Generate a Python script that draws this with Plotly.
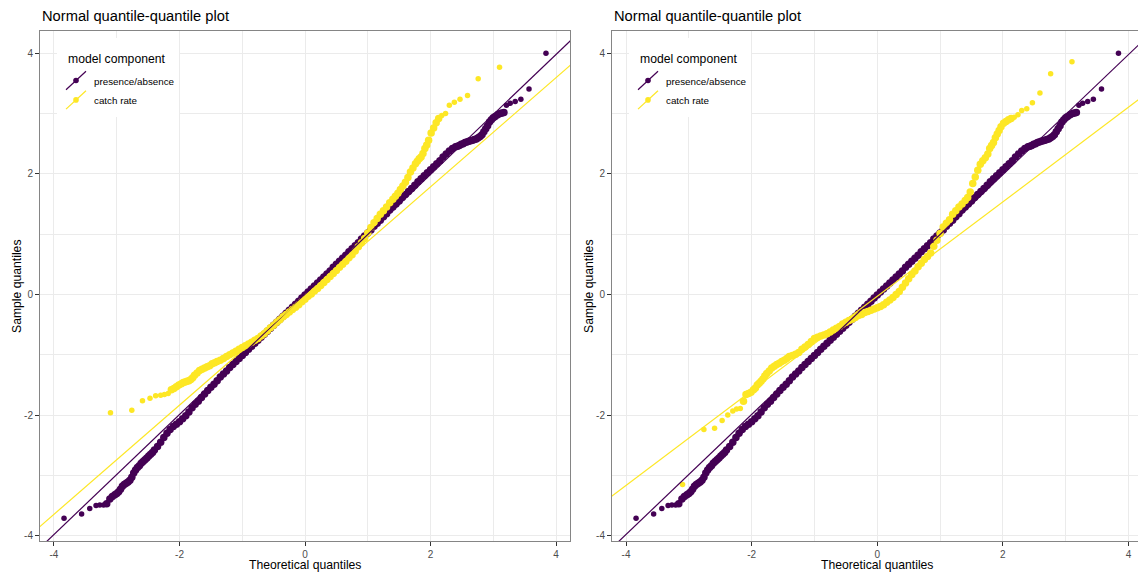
import plotly.graph_objects as go

# ---------------- data ----------------
# presence/absence residuals: theoretical quantiles and sample quantiles (same in both panels)
PA_X = [-3.84, -3.56, -3.43, -3.33, -3.27, -3.21, -3.16, -3.11, -3.07, -3.03,
        -3.00, -2.97, -2.94, -2.91, -2.88, -2.85, -2.82, -2.79, -2.76, -2.73,
        -2.70, -2.67, -2.64, -2.61, -2.58, -2.55, -2.52, -2.49, -2.46, -2.43,
        -2.40,
        -2.35, -2.30, -2.25, -2.20, -2.15, -2.10, -2.05, -2.00, -1.95, -1.90,
        -1.85, -1.80, -1.75, -1.70, -1.65, -1.60, -1.55, -1.50, -1.45, -1.40,
        -1.35, -1.30, -1.25, -1.20, -1.15, -1.10, -1.05, -1.00, -0.95, -0.90,
        -0.85, -0.80, -0.75, -0.70, -0.65, -0.60, -0.55, -0.50, -0.45, -0.40,
        -0.35, -0.30, -0.25, -0.20, -0.15, -0.10, -0.05, 0.00, 0.05, 0.10,
        0.15, 0.20, 0.25, 0.30, 0.35, 0.40, 0.45, 0.50, 0.55, 0.60,
        0.65, 0.70, 0.75, 0.80, 0.85, 0.90, 0.95, 1.00, 1.05, 1.10,
        1.15, 1.20, 1.25, 1.30, 1.35, 1.40, 1.45, 1.50, 1.55, 1.60,
        1.65, 1.70, 1.75, 1.80, 1.85, 1.90, 1.95, 2.00, 2.05, 2.10,
        2.15, 2.20, 2.25, 2.30, 2.35,
        2.40, 2.43, 2.46, 2.49, 2.52, 2.55, 2.58, 2.61, 2.64, 2.67,
        2.70, 2.73, 2.76, 2.79, 2.82, 2.85, 2.88, 2.91, 2.94, 2.97,
        3.00, 3.03, 3.07, 3.11, 3.14, 3.17, 3.21, 3.27, 3.35, 3.44,
        3.57, 3.84]
PA_Y = [-3.71, -3.64, -3.55, -3.50, -3.49, -3.49, -3.47, -3.39, -3.35, -3.32,
        -3.30, -3.27, -3.23, -3.18, -3.15, -3.13, -3.11, -3.08, -3.03, -2.96,
        -2.91, -2.87, -2.84, -2.80, -2.77, -2.74, -2.71, -2.68, -2.65, -2.62,
        -2.58,
        -2.52, -2.45, -2.37, -2.30, -2.24, -2.19, -2.15, -2.11, -2.06, -2.01,
        -1.95, -1.88, -1.82, -1.77, -1.71, -1.65, -1.59, -1.54, -1.49, -1.43,
        -1.37, -1.32, -1.27, -1.21, -1.16, -1.11, -1.06, -1.01, -0.96, -0.91,
        -0.86, -0.81, -0.76, -0.71, -0.66, -0.61, -0.56, -0.51, -0.46, -0.41,
        -0.36, -0.31, -0.26, -0.21, -0.16, -0.11, -0.06, -0.01, 0.04, 0.09,
        0.14, 0.19, 0.24, 0.29, 0.34, 0.39, 0.45, 0.50, 0.55, 0.60,
        0.65, 0.71, 0.76, 0.81, 0.86, 0.92, 0.97, 1.02, 1.07, 1.13,
        1.18, 1.23, 1.29, 1.34, 1.40, 1.45, 1.50, 1.55, 1.61, 1.66,
        1.71, 1.76, 1.81, 1.87, 1.92, 1.97, 2.02, 2.07, 2.12, 2.17,
        2.22, 2.28, 2.33, 2.38, 2.42,
        2.45, 2.46, 2.47, 2.49, 2.50, 2.52, 2.53, 2.54, 2.55, 2.56,
        2.57, 2.58, 2.60, 2.62, 2.65, 2.70, 2.75, 2.80, 2.86, 2.90,
        2.93, 2.95, 2.98, 3.00, 3.01, 3.02, 3.14, 3.17, 3.20, 3.24,
        3.41, 4.00]

# catch-rate residuals: theoretical quantiles (shared by both panels)
CR_X = [-3.10, -2.76, -2.59, -2.47, -2.38, -2.30, -2.24, -2.18, -2.13, -2.09,
        -2.05, -2.01, -1.97, -1.94, -1.91, -1.88, -1.85, -1.82, -1.79, -1.76,
        -1.72, -1.68, -1.64, -1.60, -1.56, -1.52, -1.48, -1.44, -1.40,
        -1.35, -1.30, -1.25, -1.20, -1.15, -1.10, -1.05, -1.00, -0.95, -0.90,
        -0.85, -0.80, -0.75, -0.70, -0.65, -0.60, -0.55, -0.50, -0.45, -0.40,
        -0.35, -0.30, -0.25, -0.20, -0.15, -0.10, -0.05, 0.00, 0.05, 0.10,
        0.15, 0.20, 0.25, 0.30, 0.35, 0.40, 0.45, 0.50, 0.55, 0.60,
        0.65, 0.70, 0.75, 0.80, 0.85, 0.90, 0.95, 1.00, 1.05, 1.10,
        1.15, 1.20, 1.25, 1.30, 1.35, 1.40,
        1.44, 1.48, 1.52, 1.56, 1.60, 1.64, 1.68, 1.72, 1.76, 1.79,
        1.82, 1.85, 1.88, 1.91, 1.94, 1.97, 2.01, 2.05, 2.09, 2.13,
        2.18, 2.24, 2.30, 2.38, 2.47, 2.59, 2.76, 3.10]
# catch-rate sample quantiles, left model
CR_Y_LEFT = [-1.96, -1.92, -1.76, -1.72, -1.68, -1.67, -1.66, -1.64, -1.58, -1.56,
             -1.53, -1.50, -1.48, -1.46, -1.45, -1.44, -1.43, -1.41, -1.38, -1.34,
             -1.30, -1.26, -1.24, -1.22, -1.20, -1.18, -1.15, -1.13, -1.11,
             -1.09, -1.06, -1.03, -1.00, -0.97, -0.94, -0.91, -0.88, -0.85, -0.82,
             -0.79, -0.76, -0.73, -0.69, -0.65, -0.60, -0.55, -0.51, -0.46, -0.42,
             -0.37, -0.33, -0.29, -0.25, -0.21, -0.17, -0.12, -0.08, -0.03, 0.01,
             0.06, 0.10, 0.15, 0.20, 0.25, 0.30, 0.35, 0.40, 0.45, 0.50,
             0.55, 0.61, 0.66, 0.72, 0.79, 0.86, 0.93, 1.02, 1.11, 1.19,
             1.26, 1.33, 1.39, 1.45, 1.52, 1.58,
             1.63, 1.68, 1.74, 1.80, 1.86, 1.94, 2.03, 2.10, 2.17, 2.21,
             2.25, 2.28, 2.34, 2.42, 2.48, 2.56, 2.68, 2.76, 2.85, 2.92,
             2.97, 3.00, 3.14, 3.19, 3.24, 3.30, 3.58, 3.77]
# catch-rate sample quantiles, right model
CR_Y_RIGHT = [-3.15, -2.24, -2.22, -2.09, -2.00, -1.93, -1.90, -1.89, -1.77, -1.66,
              -1.64, -1.62, -1.58, -1.55, -1.50, -1.47, -1.44, -1.40, -1.35, -1.31,
              -1.27, -1.22, -1.19, -1.16, -1.14, -1.11, -1.09, -1.06, -1.03,
              -1.01, -0.99, -0.96, -0.91, -0.87, -0.83, -0.78, -0.73, -0.71, -0.69,
              -0.67, -0.65, -0.62, -0.59, -0.56, -0.53, -0.49, -0.46, -0.43, -0.41,
              -0.38, -0.35, -0.33, -0.30, -0.28, -0.26, -0.24, -0.22, -0.20, -0.17,
              -0.13, -0.09, -0.05, 0.00, 0.05, 0.12, 0.19, 0.26, 0.33, 0.39,
              0.46, 0.52, 0.58, 0.63, 0.69, 0.80, 0.90, 1.01, 1.12, 1.18,
              1.24, 1.33, 1.39, 1.45, 1.50, 1.56,
              1.61, 1.70, 1.84, 1.95, 2.06, 2.16, 2.22, 2.27, 2.33, 2.42,
              2.47, 2.52, 2.60, 2.66, 2.72, 2.78, 2.84, 2.87, 2.90, 2.92,
              2.94, 2.98, 3.05, 3.08, 3.18, 3.34, 3.66, 3.86]

# reference lines (intercept, slope) per panel
QQLINE_PA = (0.0, 0.995)
QQLINE_CR_LEFT = (-0.025, 0.905)
QQLINE_CR_RIGHT = (-0.03, 0.784)

SERIES_NAMES = ["presence/absence", "catch rate"]
COLORS = ["#440154", "#FDE725"]
TITLE = "Normal quantile-quantile plot"
X_TITLE = "Theoretical quantiles"
Y_TITLE = "Sample quantiles"
LEGEND_TITLE = "model component"
TICKS = [-4, -2, 0, 2, 4]
TICK_TEXT = ["-4", "-2", "0", "2", "4"]
MINOR_TICKS = [-3, -1, 1, 3]

assert len(PA_X) == len(PA_Y)
assert len(CR_X) == len(CR_Y_LEFT) == len(CR_Y_RIGHT)

# ---------------- layout geometry ----------------
W, H = 1138, 574
FONT = "Liberation Sans, Arial, Helvetica, sans-serif"


def px(x):
    return x / W


def py(y):
    return 1 - y / H


def point_sizes(xs, dense=7.5, sparse=5.5, gap=0.051):
    """Where the sample is dense (many overlapping points) the band looks thicker."""
    out = []
    for j in range(len(xs)):
        lg = xs[j] - xs[j - 1] if j > 0 else 9
        rg = xs[j + 1] - xs[j] if j < len(xs) - 1 else 9
        out.append(dense if max(lg, rg) <= gap else sparse)
    return out


X_RANGES = [[-4.223, 4.223], [-4.223, 4.151]]
Y_RANGE = [-4.088, 4.37]
PANEL_LEFT = [40, 612]
PANEL_RIGHT = [570, 1138]
PLOT_TOP, PLOT_BOTTOM = 31, 541

fig = go.Figure()

panels = [
    (CR_Y_LEFT, QQLINE_CR_LEFT, "x", "y"),
    (CR_Y_RIGHT, QQLINE_CR_RIGHT, "x2", "y2"),
]
pa_sizes = point_sizes(PA_X)
cr_sizes = point_sizes(CR_X)
for i, (cr_y, cr_line, xa, ya) in enumerate(panels):
    fig.add_trace(go.Scatter(x=PA_X, y=PA_Y, mode="markers", xaxis=xa, yaxis=ya,
                             marker=dict(color=COLORS[0], size=pa_sizes, opacity=1, line=dict(width=0)),
                             showlegend=False, name=SERIES_NAMES[0]))
    fig.add_trace(go.Scatter(x=CR_X, y=cr_y, mode="markers", xaxis=xa, yaxis=ya,
                             marker=dict(color=COLORS[1], size=cr_sizes, opacity=1, line=dict(width=0)),
                             showlegend=False, name=SERIES_NAMES[1]))
    xr = X_RANGES[i]
    lx = [xr[0] - 0.5, xr[1] + 0.5]
    for (a, b), c, nm in [(QQLINE_PA, COLORS[0], SERIES_NAMES[0]), (cr_line, COLORS[1], SERIES_NAMES[1])]:
        fig.add_trace(go.Scatter(x=lx, y=[a + b * v for v in lx], mode="lines", xaxis=xa, yaxis=ya,
                                 line=dict(color=c, width=1.2), showlegend=False, name=nm,
                                 hoverinfo="skip"))

axis_common = dict(
    tickvals=TICKS, ticktext=TICK_TEXT,
    showgrid=True, gridcolor="#EBEBEB", gridwidth=1.1,
    minor=dict(tickvals=MINOR_TICKS, showgrid=True, gridcolor="#EBEBEB", gridwidth=0.6, ticks=""),
    zeroline=False, showline=True, linecolor="#858585", linewidth=1, mirror=True,
    ticks="outside", ticklen=4, tickwidth=1, tickcolor="#333333",
    tickfont=dict(family=FONT, size=10, color="#4D4D4D"),
)

ydom = [py(PLOT_BOTTOM), py(PLOT_TOP)]
fig.update_layout(
    xaxis=dict(domain=[px(PANEL_LEFT[0]), px(PANEL_RIGHT[0])], range=X_RANGES[0], anchor="y", **axis_common),
    yaxis=dict(domain=ydom, range=Y_RANGE, anchor="x", **axis_common),
    xaxis2=dict(domain=[px(PANEL_LEFT[1]), min(1.0, px(PANEL_RIGHT[1]))], range=X_RANGES[1], anchor="y2", **axis_common),
    yaxis2=dict(domain=ydom, range=Y_RANGE, anchor="x2", **axis_common),
)

annotations = []
shapes = []
for i in range(2):
    L = PANEL_LEFT[i]
    off = L - 40
    cx = (L + L + 530) / 2
    annotations.append(dict(text=TITLE, x=px(L), y=py(15.5), xref="paper", yref="paper",
                            xanchor="left", yanchor="middle", showarrow=False,
                            font=dict(family=FONT, size=14.7, color="black")))
    annotations.append(dict(text=X_TITLE, x=px(cx), y=py(564.5), xref="paper", yref="paper",
                            xanchor="center", yanchor="middle", showarrow=False,
                            font=dict(family=FONT, size=12.2, color="black")))
    annotations.append(dict(text=Y_TITLE, x=px(L - 23), y=py(286), xref="paper", yref="paper",
                            xanchor="center", yanchor="middle", showarrow=False, textangle=-90,
                            font=dict(family=FONT, size=12.2, color="black")))
    # legend box
    shapes.append(dict(type="rect", xref="paper", yref="paper", layer="above",
                       x0=px(57 + off), x1=px(179 + off), y0=py(117), y1=py(38),
                       fillcolor="white", line=dict(width=0)))
    annotations.append(dict(text=LEGEND_TITLE, x=px(66 + off), y=py(59.5), xref="paper", yref="paper",
                            xanchor="left", yanchor="middle", showarrow=False,
                            font=dict(family=FONT, size=12.2, color="black")))
    for k in range(2):
        cyk = 80.5 + 19.4 * k
        shapes.append(dict(type="line", xref="paper", yref="paper", layer="above",
                           x0=px(66 + off), y0=py(cyk + 9.2), x1=px(86 + off), y1=py(cyk - 9.2),
                           line=dict(color=COLORS[k], width=1.2)))
        r = 2.8
        shapes.append(dict(type="circle", xref="paper", yref="paper", layer="above",
                           x0=px(76 + off - r), x1=px(76 + off + r), y0=py(cyk + r), y1=py(cyk - r),
                           fillcolor=COLORS[k], line=dict(width=0)))
        annotations.append(dict(text=SERIES_NAMES[k], x=px(91.5 + off), y=py(cyk + 0.5), xref="paper", yref="paper",
                                xanchor="left", yanchor="middle", showarrow=False,
                                font=dict(family=FONT, size=9.8, color="black")))

fig.update_layout(
    width=W, height=H, margin=dict(l=0, r=0, t=0, b=0),
    paper_bgcolor="white", plot_bgcolor="white",
    showlegend=False, annotations=annotations, shapes=shapes,
    font=dict(family=FONT),
)

fig.write_html("out.html", config={"displayModeBar": False},
               post_script="document.body.style.margin='0';document.body.style.padding='0';document.body.style.overflow='hidden';")
